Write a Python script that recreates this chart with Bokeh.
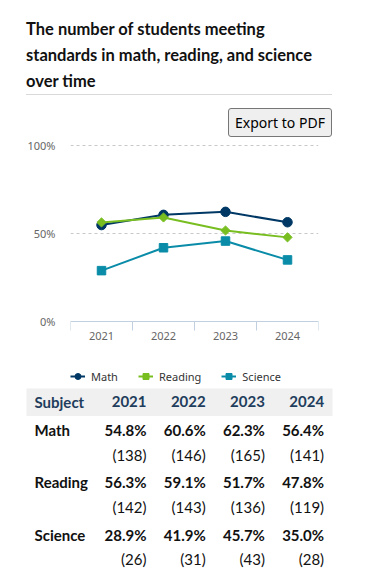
import math as _m
from bokeh.plotting import figure
from bokeh.models import (Range1d, FixedTicker, PrintfTickFormatter, Legend, LegendItem,
                          Div, ColumnDataSource, LinearAxis, Grid)
from bokeh.layouts import column
from bokeh.core.properties import value
from bokeh.embed import file_html
from bokeh.resources import INLINE

# ---------------- data ----------------
years = [2021, 2022, 2023, 2024]
year_labels = ["2021", "2022", "2023", "2024"]
subjects = ["Math", "Reading", "Science"]
math = [54.8, 60.6, 62.3, 56.4]
reading = [56.3, 59.1, 51.7, 47.8]
science = [28.9, 41.9, 45.7, 35.0]
math_n = [138, 146, 165, 141]
reading_n = [142, 143, 136, 119]
science_n = [26, 31, 43, 28]
y_ticks = [0, 50, 100]

title_lines = ["The number of students meeting",
               "standards in math, reading, and science",
               "over time"]

MATH_C = "#003865"
READ_C = "#78be20"
SCI_C = "#0a8ca8"
TABLE_FONT = "Lato"
CHART_FONT = "Noto Sans"
W = 372

# ---------------- title + button ----------------
title_html = (
    '<div style="box-sizing:border-box;padding:16px 0 0 26px;width:332px;'
    'font-family:Lato,sans-serif;">'
    '<div style="box-sizing:border-box;font-weight:bold;font-size:16.5px;line-height:26px;'
    'color:#111;border-bottom:1px solid #d9d9d9;height:79px;white-space:nowrap;">'
    + "<br>".join(title_lines) +
    '</div>'
    '<div style="text-align:right;margin-top:13px;height:29px;">'
    '<span style="display:inline-block;box-sizing:border-box;height:29px;width:104px;'
    'background:#efefef;border:1px solid #767676;border-radius:3px;'
    'font-family:\'Noto Sans\',sans-serif;font-size:14px;line-height:27px;'
    'text-align:center;color:#000;">Export to PDF</span>'
    '</div></div>'
)
head = Div(text=title_html, width=W, height=137, margin=0)

# ---------------- chart ----------------
# plot area: 0% lies 176 px below 100%; the frame starts 2 px above 100% and continues
# 67 px below 0% so that the legend can sit inside it
px_per_unit = 176 / 100
y_top = 100 + 2 / px_per_unit
y_bottom = -67 / px_per_unit
p = figure(width=W, height=251, x_range=Range1d(2020.5, 2024.5), y_range=Range1d(y_bottom, y_top),
           output_backend="svg", toolbar_location=None, frame_align=False,
           min_border_left=70, min_border_right=54, min_border_top=6, min_border_bottom=0,
           x_axis_type=None, y_axis_type=None, outline_line_color=None)

boundaries = [y - 0.5 for y in years] + [years[-1] + 0.5]
xaxis = LinearAxis(ticker=FixedTicker(ticks=years, minor_ticks=boundaries),
                   formatter=PrintfTickFormatter(format="%d"), fixed_location=0)
xaxis.axis_line_color = "#c0d0e0"
xaxis.major_tick_line_color = None
xaxis.major_tick_out = 0
xaxis.major_tick_in = 0
xaxis.minor_tick_line_color = "#c0d0e0"
xaxis.minor_tick_out = 9
xaxis.minor_tick_in = 0
xaxis.major_label_standoff = 1
xaxis.major_label_text_font = CHART_FONT
xaxis.major_label_text_font_size = "11px"
xaxis.major_label_text_color = "#666666"
p.add_layout(xaxis, "below")

yaxis = LinearAxis(ticker=FixedTicker(ticks=y_ticks), formatter=PrintfTickFormatter(format="%d%%"))
yaxis.axis_line_color = None
yaxis.major_tick_line_color = None
yaxis.minor_tick_line_color = None
yaxis.major_tick_out = 0
yaxis.major_tick_in = 0
yaxis.major_label_standoff = 15
yaxis.major_label_text_font = CHART_FONT
yaxis.major_label_text_font_size = "11px"
yaxis.major_label_text_color = "#666666"
p.add_layout(yaxis, "left")

p.add_layout(Grid(dimension=1, ticker=FixedTicker(ticks=y_ticks[1:]), grid_line_color="#c8c8c8",
                  grid_line_dash="3 3", grid_line_width=1))

series = [("Math", math, MATH_C, "circle", 9.5, 0),
          ("Reading", reading, READ_C, "square", 6.5, _m.pi / 4),
          ("Science", science, SCI_C, "square", 8.5, 0)]
items = []
for name, vals, col, mk, sz, ang in series:
    ln = p.line(years, vals, line_color=col, line_width=2)
    sc = p.scatter(years, vals, marker=mk, size=sz, angle=ang, fill_color=col, line_color=col)
    items.append(LegendItem(label=name, renderers=[ln, sc]))

legend = Legend(items=items, orientation="horizontal", location=(0, 2), padding=0, margin=0,
                spacing=20, label_standoff=6, glyph_width=15, glyph_height=20,
                label_text_font=CHART_FONT, label_text_font_size="11px",
                label_text_color="#333333", background_fill_alpha=0, border_line_color=None)
p.add_layout(legend, "center")

# ---------------- table ----------------
col_px = 59.2
right0 = 86.8
x0 = 2020 + (26 - right0) / col_px
x1 = 2020 + (332 - right0) / col_px

hfig = figure(width=W, height=28, x_range=Range1d(x0, x1), y_range=Range1d(-1, 1),
              output_backend="svg", toolbar_location=None, frame_align=False,
              min_border_left=26, min_border_right=40, min_border_top=0, min_border_bottom=0,
              x_axis_type=None, y_axis_type=None, outline_line_color=None,
              background_fill_color="#f0f0f0")
hfig.text(x=years, y=[0] * len(years), text=year_labels, text_align="right",
          text_baseline="middle", text_font=value(TABLE_FONT), text_font_style="bold",
          text_font_size="15px", text_color="#1f3d5c", y_offset=-1)
hfig.text(x=[x0], y=[0], text=["Subject"], x_offset=8, text_align="left",
          text_baseline="middle", text_font=value(TABLE_FONT), text_font_style="bold",
          text_font_size="15px", text_color="#1f3d5c", y_offset=-1)

pcts = [math, reading, science]
counts = [math_n, reading_n, science_n]
cx, cy, ctext, ntext = [], [], [], []
for k, subj in enumerate(subjects):
    for j, yr in enumerate(years):
        cx.append(yr)
        cy.append(k)
        ctext.append(f"{pcts[k][j]:.1f}%")
        ntext.append(f"({counts[k][j]})")
src = ColumnDataSource(dict(x=cx, y=cy, pct=ctext, n=ntext))

bfig = figure(width=W, height=155, x_range=Range1d(x0, x1), y_range=Range1d(2.7115, -0.2692),
              output_backend="svg", toolbar_location=None, frame_align=False,
              min_border_left=26, min_border_right=40, min_border_top=0, min_border_bottom=0,
              x_axis_type=None, y_axis_type=None, outline_line_color=None)
bfig.text(x="x", y="y", text="pct", source=src, text_align="right", text_baseline="middle",
          text_font=value(TABLE_FONT), text_font_style="bold", text_font_size="15px",
          text_color="#111111")
bfig.text(x="x", y="y", text="n", source=src, text_align="right", text_baseline="middle",
          text_font=value(TABLE_FONT), text_font_size="15px", text_color="#111111", y_offset=24.5)
bfig.text(x=[x0] * len(subjects), y=list(range(len(subjects))), text=subjects, x_offset=8,
          text_align="left", text_baseline="middle", text_font=value(TABLE_FONT),
          text_font_style="bold", text_font_size="15px", text_color="#111111")

layout = column(head, p, hfig, bfig)
open("out.html", "w").write(file_html(layout, INLINE))
